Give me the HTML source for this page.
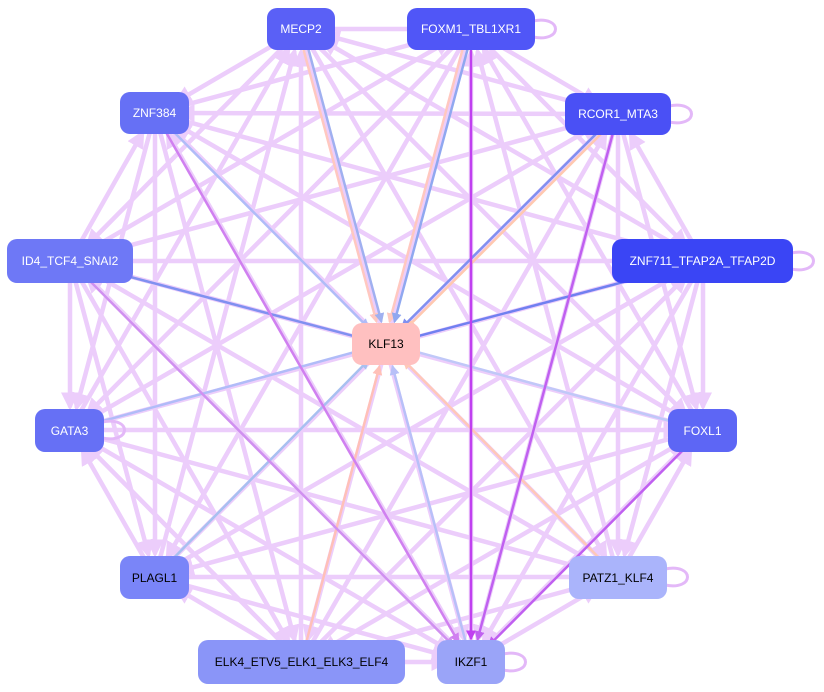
<!DOCTYPE html>
<html><head><meta charset="utf-8"><style>
html,body{margin:0;padding:0;background:#fff;width:824px;height:692px;overflow:hidden}
.n{position:absolute;border-radius:10px;font-family:"Liberation Sans",sans-serif;font-size:12px;display:flex;align-items:center;justify-content:center;color:#fff}
</style></head><body>
<svg id="s" width="824" height="692" style="position:absolute;left:0;top:0">
<defs>
<marker id="a" markerWidth="4" markerHeight="4" refX="3" refY="2" orient="auto" markerUnits="strokeWidth"><path d="M0,0L4,2L0,4z" fill="context-stroke"/></marker>
</defs>
<g id="g" fill="none" stroke-linecap="round"></g>
</svg>
<div class="n" style="left:267px;top:8px;width:68px;height:42px;background:#5a60f6">MECP2</div>
<div class="n" style="left:407px;top:8px;width:128px;height:42px;background:#5056f7">FOXM1_TBL1XR1</div>
<div class="n" style="left:565px;top:93px;width:106px;height:42px;background:#4a50f5">RCOR1_MTA3</div>
<div class="n" style="left:120px;top:92px;width:69px;height:42px;background:#6670f5">ZNF384</div>
<div class="n" style="left:612px;top:239px;width:181px;height:44px;background:#3a45f5">ZNF711_TFAP2A_TFAP2D</div>
<div class="n" style="left:7px;top:239px;width:126px;height:44px;background:#6e78f6">ID4_TCF4_SNAI2</div>
<div class="n" style="left:352px;top:323px;width:68px;height:42px;background:#ffc0c0;color:#000">KLF13</div>
<div class="n" style="left:35px;top:409px;width:69px;height:43px;background:#6670f5">GATA3</div>
<div class="n" style="left:668px;top:409px;width:69px;height:43px;background:#5d66f5">FOXL1</div>
<div class="n" style="left:120px;top:556px;width:69px;height:43px;background:#7a85f8;color:#000">PLAGL1</div>
<div class="n" style="left:569px;top:556px;width:98px;height:43px;background:#aab4fb;color:#000">PATZ1_KLF4</div>
<div class="n" style="left:198px;top:640px;width:207px;height:44px;background:#8a95f8;color:#000">ELK4_ETV5_ELK1_ELK3_ELF4</div>
<div class="n" style="left:437px;top:640px;width:68px;height:44px;background:#9aa4f8;color:#000">IKZF1</div>
<script>
var N={M:[301,29],F:[471,29],R:[618,114],Z:[155,113],T:[703,261],I:[70,261],G:[70,430],X:[703,430],P:[155,577],K:[618,577],E:[301,662],Y:[471,662]};
var C=[386,344];var g=document.getElementById('g');var ns='http://www.w3.org/2000/svg';
function ln(a,b,c,w,sh){var dx=b[0]-a[0],dy=b[1]-a[1],L=Math.hypot(dx,dy);var s=sh||[0,0];
var e=document.createElementNS(ns,'line');e.setAttribute('x1',a[0]+s[0]);e.setAttribute('y1',a[1]+s[1]);
e.setAttribute('x2',b[0]-dx/L*26+s[0]);e.setAttribute('y2',b[1]-dy/L*24+s[1]);e.setAttribute('stroke',c);e.setAttribute('stroke-width',w);e.setAttribute('marker-end','url(#a)');g.appendChild(e);}
var k=Object.keys(N);
for(var i=0;i<k.length;i++)for(var j=i+1;j<k.length;j++){ln(((i+j)%2)?N[k[i]]:N[k[j]],((i+j)%2)?N[k[j]]:N[k[i]],'#eccdfb',4.5);}
[['M','#ffc8c0',-3],['M','#a0b0f0',2],['F','#ffc8c0',-3],['F','#90a8f0',2],['R','#ffc8b0',3],['R','#8090f0',-2],['T','#7080f0',0],['Z','#b0bcf8',0],['I','#8090f0',0],['G','#b0bcf8',0],['X','#c0c8f8',0],['P','#a8c0f0',0],['E','#ffc0b8',0],['Y','#b8c0f8',0],['K','#ffc8b8',0]].forEach(function(e){ln(N[e[0]],C,e[1],2.5,[e[2],0]);});
[['F','#c040f0'],['R','#c060f0'],['X','#c060f0'],['Z','#d080f0'],['I','#d090f0']].forEach(function(e){ln(N[e[0]],N.Y,e[1],2.5);});
[[535,29],[671,114],[793,261],[104,430],[667,577],[505,662]].forEach(function(p){var e=document.createElementNS(ns,'path');e.setAttribute('d','M'+(p[0]-2)+','+(p[1]-8)+' C'+(p[0]+28)+','+(p[1]-14)+' '+(p[0]+28)+','+(p[1]+14)+' '+(p[0]-2)+','+(p[1]+8));e.setAttribute('stroke','#e3b8f8');e.setAttribute('stroke-width',3);g.appendChild(e);});
</script>
</body></html>
